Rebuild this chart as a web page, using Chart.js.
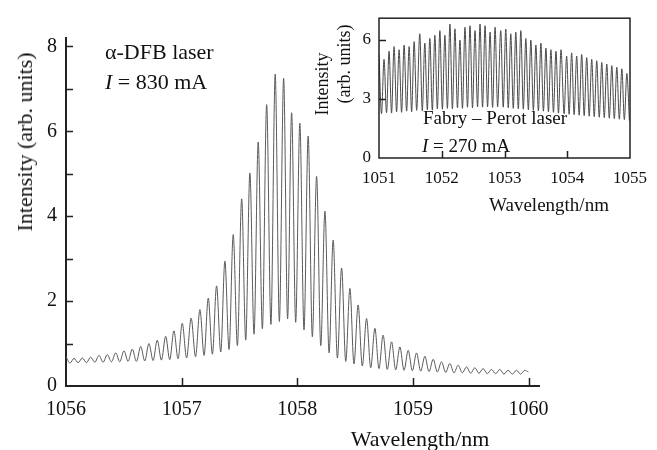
<!DOCTYPE html>
<html>
<head>
<meta charset="utf-8">
<script src="https://cdn.jsdelivr.net/npm/chart.js@4.4.0/dist/chart.umd.min.js"></script>
<style>
  html, body { margin: 0; padding: 0; background: #fff; }
  #wrap { position: relative; width: 657px; height: 450px; font-family: "Liberation Serif", "Times New Roman", serif; color: #111; }
  canvas { position: absolute; left: 0; top: 0; }
  .lbl { position: absolute; white-space: nowrap; line-height: 1; }
  .mid { transform: translateY(-50%); }
  .ctr { transform: translate(-50%, -50%); }
  .rot { transform: translate(-50%, -50%) rotate(-90deg); }
</style>
</head>
<body>
<div id="wrap">
  <canvas id="mainChart" width="657" height="450"></canvas>
  <canvas id="insetChart" width="657" height="450"></canvas>

  <div class="lbl mid" style="left:105px;top:52px;font-size:22px">α-DFB laser</div>
  <div class="lbl mid" style="left:105px;top:82px;font-size:22px"><i>I</i> = 830 mA</div>
  <div class="lbl rot" style="left:25px;top:142px;font-size:22px">Intensity (arb. units)</div>
  <div class="lbl ctr" style="left:420px;top:439px;font-size:22px">Wavelength/nm</div>

  <div class="lbl rot" style="left:322px;top:84px;font-size:18px">Intensity</div>
  <div class="lbl rot" style="left:344px;top:64px;font-size:18px">(arb. units)</div>
  <div class="lbl ctr" style="left:549px;top:204px;font-size:19px">Wavelength/nm</div>
  <div class="lbl mid" style="left:423px;top:117px;font-size:19px">Fabry – Perot laser</div>
  <div class="lbl mid" style="left:422px;top:145px;font-size:19px"><i>I</i> = 270 mA</div>
</div>

<script>
// α-DFB laser, fringe maxima
const dfbPeakNm = [1056.069, 1056.141, 1056.213, 1056.285, 1056.357, 1056.430, 1056.501, 1056.573, 1056.646, 1056.717,
  1056.789, 1056.862, 1056.933, 1057.005, 1057.082, 1057.158, 1057.230, 1057.302, 1057.374, 1057.446,
  1057.519, 1057.590, 1057.662, 1057.735, 1057.809, 1057.882, 1057.951, 1058.022, 1058.094, 1058.167,
  1058.239, 1058.310, 1058.383, 1058.455, 1058.526, 1058.599, 1058.671, 1058.742, 1058.815, 1058.887,
  1058.959, 1059.031, 1059.103, 1059.175, 1059.247, 1059.319, 1059.391, 1059.463, 1059.535, 1059.607,
  1059.679, 1059.751, 1059.823, 1059.895, 1059.967];
const dfbPeakI = [0.65, 0.66, 0.68, 0.72, 0.74, 0.78, 0.83, 0.87, 0.93, 1.00,
  1.08, 1.17, 1.30, 1.48, 1.60, 1.80, 2.07, 2.36, 2.94, 3.57,
  4.41, 5.02, 5.75, 6.63, 7.35, 7.25, 6.44, 6.19, 5.89, 4.94,
  4.12, 3.44, 2.78, 2.30, 1.91, 1.59, 1.36, 1.20, 1.04, 0.92,
  0.84, 0.78, 0.70, 0.63, 0.57, 0.53, 0.49, 0.45, 0.43, 0.41,
  0.39, 0.39, 0.37, 0.37, 0.37];
// α-DFB laser, fringe minima (plus both line ends)
const dfbDipNm = [1056.000, 1056.035, 1056.105, 1056.177, 1056.249, 1056.321, 1056.393, 1056.465, 1056.537, 1056.609,
  1056.681, 1056.753, 1056.825, 1056.897, 1056.969, 1057.043, 1057.120, 1057.194, 1057.266, 1057.338,
  1057.410, 1057.482, 1057.554, 1057.626, 1057.698, 1057.772, 1057.845, 1057.916, 1057.986, 1058.058,
  1058.130, 1058.203, 1058.275, 1058.347, 1058.419, 1058.490, 1058.562, 1058.635, 1058.706, 1058.778,
  1058.851, 1058.923, 1058.995, 1059.067, 1059.139, 1059.211, 1059.283, 1059.355, 1059.427, 1059.499,
  1059.571, 1059.643, 1059.715, 1059.787, 1059.859, 1059.931, 1059.998];
const dfbDipI = [0.69, 0.54, 0.55, 0.55, 0.56, 0.56, 0.57, 0.57, 0.58, 0.58,
  0.59, 0.60, 0.61, 0.62, 0.64, 0.66, 0.69, 0.72, 0.75, 0.80,
  0.86, 0.95, 1.08, 1.22, 1.35, 1.45, 1.52, 1.58, 1.50, 1.32,
  1.16, 0.95, 0.78, 0.66, 0.58, 0.52, 0.47, 0.43, 0.41, 0.39,
  0.38, 0.37, 0.36, 0.35, 0.34, 0.33, 0.32, 0.31, 0.31, 0.30,
  0.30, 0.29, 0.29, 0.28, 0.28, 0.28, 0.33];

// Fabry-Perot laser (inset)
const fpPeakNm = [1051.00, 1051.08, 1051.16, 1051.24, 1051.32, 1051.40, 1051.48, 1051.56, 1051.65, 1051.73,
  1051.81, 1051.89, 1051.97, 1052.05, 1052.13, 1052.21, 1052.29, 1052.37, 1052.45, 1052.53,
  1052.61, 1052.69, 1052.77, 1052.85, 1052.94, 1053.02, 1053.10, 1053.18, 1053.26, 1053.34,
  1053.42, 1053.50, 1053.58, 1053.66, 1053.74, 1053.82, 1053.90, 1053.99, 1054.07, 1054.15,
  1054.23, 1054.31, 1054.39, 1054.47, 1054.55, 1054.63, 1054.71, 1054.79, 1054.87, 1054.95];
const fpPeakI = [5.26, 5.01, 5.42, 5.66, 5.50, 5.74, 5.66, 5.91, 6.31, 5.83,
  6.07, 6.23, 6.47, 6.23, 6.80, 6.56, 5.99, 6.64, 6.72, 6.47,
  6.80, 6.72, 6.39, 6.64, 6.47, 6.55, 6.31, 6.39, 6.47, 6.07,
  5.99, 5.74, 5.83, 5.58, 5.50, 5.42, 5.50, 5.18, 5.34, 5.18,
  5.26, 5.10, 5.01, 4.94, 4.85, 4.77, 4.69, 4.61, 4.53, 4.29];
const fpDipNm = [1051.04, 1051.12, 1051.20, 1051.28, 1051.36, 1051.44, 1051.52, 1051.60, 1051.69, 1051.77,
  1051.85, 1051.93, 1052.01, 1052.09, 1052.17, 1052.25, 1052.33, 1052.41, 1052.49, 1052.57,
  1052.65, 1052.73, 1052.81, 1052.89, 1052.98, 1053.06, 1053.14, 1053.22, 1053.30, 1053.38,
  1053.46, 1053.54, 1053.62, 1053.70, 1053.78, 1053.86, 1053.95, 1054.03, 1054.11, 1054.19,
  1054.27, 1054.35, 1054.43, 1054.51, 1054.59, 1054.67, 1054.75, 1054.83, 1054.91, 1054.99];
const fpDipI = [2.25, 2.30, 2.28, 2.35, 2.32, 2.38, 2.35, 2.42, 2.40, 2.45,
  2.43, 2.50, 2.48, 2.52, 2.50, 2.55, 2.52, 2.58, 2.55, 2.60,
  2.58, 2.60, 2.57, 2.60, 2.58, 2.55, 2.52, 2.50, 2.48, 2.45,
  2.42, 2.40, 2.38, 2.35, 2.32, 2.28, 2.25, 2.22, 2.20, 2.17,
  2.15, 2.12, 2.10, 2.07, 2.05, 2.02, 2.00, 1.97, 1.95, 1.90];

// merge maxima and minima into one trace ordered by wavelength
function trace(peakNm, peakI, dipNm, dipI) {
  const pts = peakNm.map((x, i) => ({ x, y: peakI[i] }))
    .concat(dipNm.map((x, i) => ({ x, y: dipI[i] })));
  return pts.sort((a, b) => a.x - b.x);
}

// ticks pointing into the plot, optional frame
const inwardTicks = {
  id: 'inwardTicks',
  afterDatasetsDraw(chart, args, o) {
    const { ctx, chartArea: a, scales: { x, y } } = chart;
    ctx.save();
    ctx.strokeStyle = '#222';
    ctx.lineWidth = o.width;
    ctx.beginPath();
    x.ticks.forEach(t => {
      if (t.value <= x.min || t.value >= o.xEnd) return;
      const px = Math.round(x.getPixelForValue(t.value)) + 0.5;
      ctx.moveTo(px, a.bottom);
      ctx.lineTo(px, a.bottom - o.lenX);
    });
    y.ticks.forEach(t => {
      if (t.value <= y.min) return;
      const py = Math.round(y.getPixelForValue(t.value)) + 0.5;
      ctx.moveTo(a.left, py);
      ctx.lineTo(a.left + o.lenY, py);
    });
    ctx.stroke();
    if (o.box) {
      ctx.lineWidth = 1.5;
      ctx.strokeRect(a.left, a.top, a.right - a.left, a.bottom - a.top);
    }
    ctx.restore();
  }
};

Chart.defaults.font.family = '"Liberation Serif", "Times New Roman", serif';
Chart.defaults.color = '#111';

const plainNum = v => String(v);

new Chart(document.getElementById('mainChart'), {
  type: 'scatter',
  data: {
    datasets: [{
      data: trace(dfbPeakNm, dfbPeakI, dfbDipNm, dfbDipI),
      showLine: true,
      borderColor: '#5a5a5a',
      borderWidth: 1,
      pointRadius: 0,
      cubicInterpolationMode: 'monotone'
    }]
  },
  options: {
    responsive: false,
    devicePixelRatio: 1,
    animation: false,
    layout: { padding: { top: 38, right: 118, left: 0, bottom: 0 } },
    plugins: {
      legend: { display: false },
      tooltip: { enabled: false },
      inwardTicks: { width: 1.5, lenX: 8, lenY: 7, xEnd: 1061, box: false }
    },
    scales: {
      x: {
        type: 'linear', min: 1056, max: 1060.09,
        afterFit: s => { s.height = 64; },
        grid: { display: false, drawTicks: false },
        border: { display: true, color: '#222', width: 2 },
        ticks: { stepSize: 1, includeBounds: false, maxRotation: 0, padding: 12, font: { size: 20 }, callback: plainNum }
      },
      y: {
        min: 0, max: 8.2,
        afterFit: s => { s.width = 66; },
        grid: { display: false, drawTicks: false },
        border: { display: true, color: '#222', width: 2 },
        ticks: {
          stepSize: 1, includeBounds: false, padding: 9, font: { size: 20 },
          callback: v => (v % 2 === 0 ? String(v) : '')
        }
      }
    }
  },
  plugins: [inwardTicks]
});

new Chart(document.getElementById('insetChart'), {
  type: 'scatter',
  data: {
    datasets: [{
      data: trace(fpPeakNm, fpPeakI, fpDipNm, fpDipI),
      showLine: true,
      borderColor: '#4a4a4a',
      borderWidth: 1,
      pointRadius: 0,
      cubicInterpolationMode: 'monotone'
    }]
  },
  options: {
    responsive: false,
    devicePixelRatio: 1,
    animation: false,
    layout: { padding: { top: 12, right: 27, left: 0, bottom: 0 } },
    plugins: {
      legend: { display: false },
      tooltip: { enabled: false },
      inwardTicks: { width: 1.5, lenX: 7, lenY: 7, xEnd: 1055, box: true }
    },
    scales: {
      x: {
        type: 'linear', min: 1051, max: 1055,
        afterFit: s => { s.height = 292; },
        grid: { display: false, drawTicks: false },
        border: { display: false },
        ticks: { stepSize: 1, maxRotation: 0, padding: 10, font: { size: 17 }, callback: plainNum }
      },
      y: {
        min: 0, max: 7.1,
        afterFit: s => { s.width = 379; },
        grid: { display: false, drawTicks: false },
        border: { display: false },
        ticks: { stepSize: 3, includeBounds: false, padding: 8, font: { size: 17 }, callback: plainNum }
      }
    }
  },
  plugins: [inwardTicks]
});
</script>
</body>
</html>
